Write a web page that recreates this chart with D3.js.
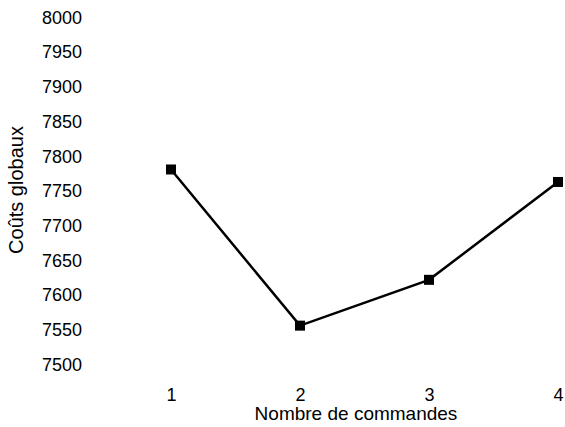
<!DOCTYPE html>
<html><head><meta charset="utf-8">
<script src="https://cdn.jsdelivr.net/npm/d3@7"></script>
<style>body{margin:0;background:#fff}svg{display:block}text{font-family:"Liberation Sans",Arial,sans-serif;fill:#000}</style>
</head><body>
<script>
const categories = [1, 2, 3, 4];
const values = [7781, 7556, 7622, 7763];
const yTicks = [7500, 7550, 7600, 7650, 7700, 7750, 7800, 7850, 7900, 7950, 8000];
const xTitle = "Nombre de commandes";
const yTitle = "Coûts globaux";

const W = 565, H = 427;
const svg = d3.select("body").append("svg").attr("width", W).attr("height", H);
const x = d3.scaleLinear().domain([1, 4]).range([171, 558]);
const y = d3.scaleLinear().domain([7500, 8000]).range([364.5, 17.5]);

const yAxis = svg.append("g").attr("transform", "translate(82,0)")
  .call(d3.axisLeft(y).tickValues(yTicks).tickSize(0).tickPadding(0).tickFormat(d3.format("d")));
yAxis.select(".domain").remove();
yAxis.selectAll("text").attr("font-size", 18).attr("font-family", "Liberation Sans, Arial, sans-serif").attr("fill", "#000");

const xAxis = svg.append("g").attr("transform", "translate(0,388)")
  .call(d3.axisBottom(x).tickValues(categories).tickSize(0).tickPadding(0).tickFormat(d3.format("d")));
xAxis.select(".domain").remove();
xAxis.selectAll("text").attr("font-size", 18).attr("font-family", "Liberation Sans, Arial, sans-serif").attr("fill", "#000");

svg.append("text").attr("x", 356).attr("y", 420).attr("text-anchor", "middle")
  .attr("font-size", 19).text(xTitle);
svg.append("text").attr("transform", "translate(23,190) rotate(-90)").attr("text-anchor", "middle")
  .attr("font-size", 20).text(yTitle);

const data = categories.map((c, i) => ({c, v: values[i]}));
svg.append("path").datum(data)
  .attr("fill", "none").attr("stroke", "#000").attr("stroke-width", 2.5)
  .attr("d", d3.line().x(d => x(d.c)).y(d => y(d.v)));
const s = 10;
svg.selectAll("rect.m").data(data).enter().append("rect").attr("class", "m")
  .attr("x", d => x(d.c) - s/2).attr("y", d => y(d.v) - s/2)
  .attr("width", s).attr("height", s).attr("fill", "#000");
</script>
</body></html>
